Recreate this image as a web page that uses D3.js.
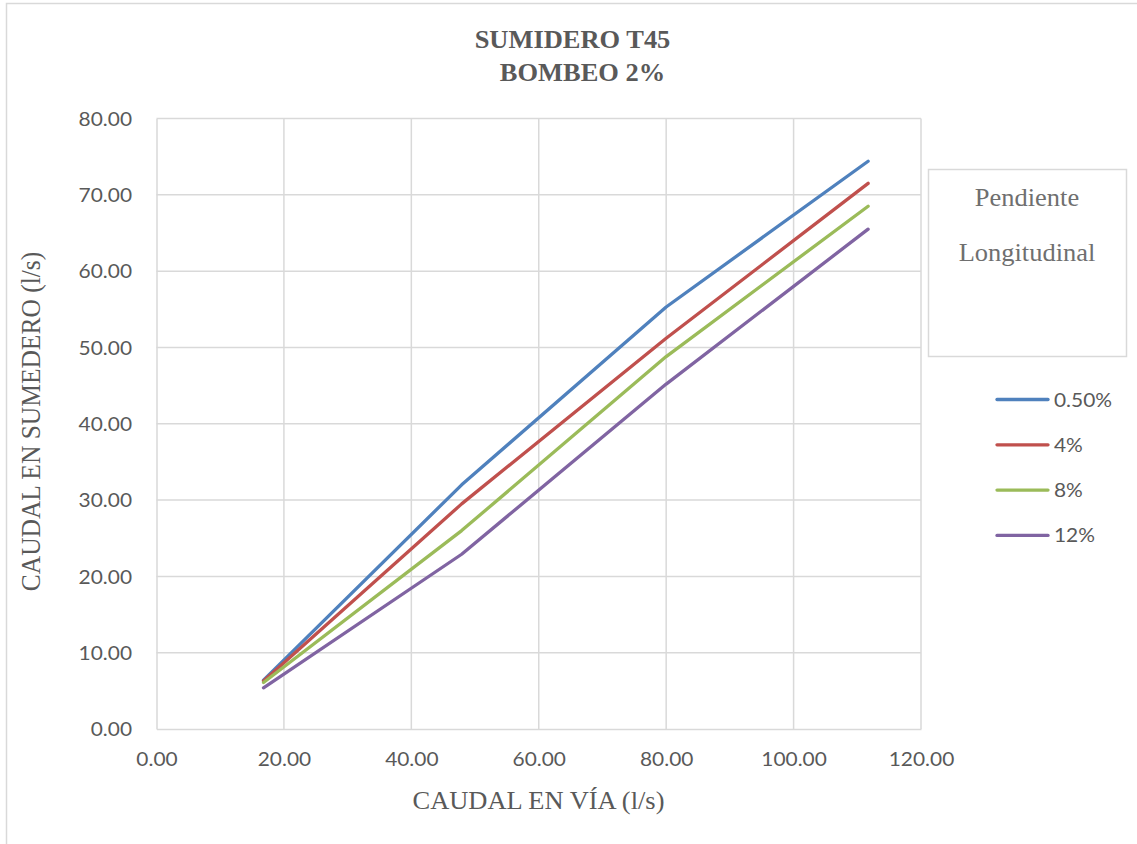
<!DOCTYPE html>
<html>
<head>
<meta charset="utf-8">
<script src="https://cdn.jsdelivr.net/npm/d3@7/dist/d3.min.js"></script>
<style>
  html, body { margin: 0; padding: 0; background: #ffffff; }
  svg { display: block; }
</style>
</head>
<body>
<script>
// Caudal en vía (l/s) – common x values for all series
const caudalVia = [16.8, 47.9, 80.0, 111.7];

// Caudal captado por el sumidero (l/s) per longitudinal slope
const q050 = [6.4, 32.0, 55.3, 74.4];
const q4   = [6.3, 29.5, 51.2, 71.5];
const q8   = [6.1, 26.0, 48.8, 68.5];
const q12  = [5.4, 22.9, 45.2, 65.5];

const seriesNames = ["0.50%", "4%", "8%", "12%"];
const seriesColors = ["#4F81BD", "#C0504D", "#9BBB59", "#8064A2"];
const seriesValues = [q050, q4, q8, q12];

const xTicks = [0, 20, 40, 60, 80, 100, 120];
const yTicks = [0, 10, 20, 30, 40, 50, 60, 70, 80];

const titleLines = ["SUMIDERO T45", "BOMBEO 2%"];
const legendTitle = ["Pendiente", "Longitudinal"];
const xTitle = "CAUDAL EN VÍA (l/s)";
const yTitle = "CAUDAL EN SUMEDERO (l/s)";

const W = 1137, H = 844;
const SERIF = "'Liberation Serif', 'Times New Roman', serif";
const SANS = "Lato, 'Open Sans', sans-serif";
const TXT = "#595959";
const GRID = "#d9d9d9";
const SX = 1.08;   // horizontal glyph stretch used by the chart's text
const SXN = 1.1;   // stretch for numeric labels
const NUM_SIZE = 19;
const SERIF_SIZE = 24.5;

const svg = d3.select("body").append("svg")
  .attr("width", W).attr("height", H);

// chart frame
svg.append("rect")
  .attr("x", 6.5).attr("y", 3.5)
  .attr("width", W + 20).attr("height", H + 20)
  .attr("fill", "#fff").attr("stroke", GRID).attr("stroke-width", 1.5);

const x = d3.scaleLinear().domain([0, 120]).range([156.5, 921]);
const y = d3.scaleLinear().domain([0, 80]).range([729, 118.5]);

// gridlines
const grid = svg.append("g");
grid.selectAll("line.h").data(yTicks.slice(1)).join("line")
  .attr("x1", x(0)).attr("x2", x(120))
  .attr("y1", d => y(d)).attr("y2", d => y(d))
  .attr("stroke", GRID).attr("stroke-width", 1.5);
grid.selectAll("line.v").data(xTicks.slice(1)).join("line")
  .attr("y1", y(0)).attr("y2", y(80))
  .attr("x1", d => x(d)).attr("x2", d => x(d))
  .attr("stroke", GRID).attr("stroke-width", 1.5);

// axes
const fmt = d3.format(".2f");
const yAxis = svg.append("g")
  .attr("transform", `translate(${x(0)},0)`)
  .call(d3.axisLeft(y).tickValues(yTicks).tickFormat(fmt).tickSize(0));
yAxis.select(".domain").attr("stroke", GRID).attr("stroke-width", 1.5);
yAxis.selectAll("text")
  .attr("x", -24.5 / SXN).attr("dy", "0.36em")
  .attr("transform", `scale(${SXN},1)`)
  .attr("fill", TXT).style("font-family", SANS).style("font-size", NUM_SIZE + "px");

const xAxis = svg.append("g")
  .attr("transform", `translate(0,${y(0)})`)
  .call(d3.axisBottom(x).tickValues(xTicks).tickFormat(fmt).tickSize(0));
xAxis.select(".domain").attr("stroke", GRID).attr("stroke-width", 1.5);
xAxis.selectAll("text")
  .attr("y", 37.5).attr("dy", 0)
  .attr("transform", `scale(${SXN},1)`)
  .attr("fill", TXT).style("font-family", SANS).style("font-size", NUM_SIZE + "px");

// series lines
const line = d3.line()
  .x((d, i) => x(caudalVia[i]))
  .y(d => y(d));
svg.append("g").selectAll("path").data(seriesValues).join("path")
  .attr("d", line)
  .attr("fill", "none")
  .attr("stroke", (d, i) => seriesColors[i])
  .attr("stroke-width", 3.3)
  .attr("stroke-linecap", "round")
  .attr("stroke-linejoin", "round");

// stretched text helper
function stext(parent, str, px, py, opts = {}) {
  const t = parent.append("text")
    .attr("transform", `translate(${px},${py}) scale(${opts.sx || SX},1)` + (opts.rot ? ` rotate(${opts.rot})` : ""))
    .attr("text-anchor", opts.anchor || "middle")
    .attr("fill", opts.fill || TXT)
    .style("font-family", opts.family || SERIF)
    .style("font-size", (opts.size || SERIF_SIZE) + "px")
    .style("font-weight", opts.weight || "normal")
    .text(str);
  return t;
}

// title
stext(svg, titleLines[0], 572.5, 47.5, { weight: "bold" });
stext(svg, titleLines[1], 582.5, 80.5, { weight: "bold" });

// axis titles
stext(svg, xTitle, 538.5, 809);
stext(svg, yTitle, 39.5, 421.5, { rot: -90, size: 25.5 });

// legend title box
svg.append("rect")
  .attr("x", 928.5).attr("y", 169.5).attr("width", 198).attr("height", 187)
  .attr("fill", "#fff").attr("stroke", GRID).attr("stroke-width", 1.5);
stext(svg, legendTitle[0], 1027, 206, { fill: "#6f6f6f" });
stext(svg, legendTitle[1], 1027, 261, { fill: "#6f6f6f" });

// legend entries
const legend = svg.append("g");
const items = legend.selectAll("g").data(seriesNames).join("g")
  .attr("transform", (d, i) => `translate(0,${399.5 + i * 45.3})`);
items.append("line")
  .attr("x1", 997).attr("x2", 1048)
  .attr("stroke", (d, i) => seriesColors[i])
  .attr("stroke-width", 3.3).attr("stroke-linecap", "round");
items.each(function (d) {
  stext(d3.select(this), d, 1054, 7, { anchor: "start", sx: SXN, family: SANS, size: NUM_SIZE });
});
</script>
</body>
</html>
